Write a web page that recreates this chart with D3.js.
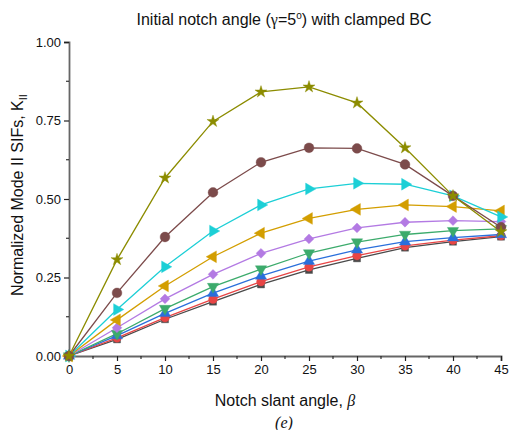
<!DOCTYPE html>
<html><head><meta charset="utf-8">
<script src="https://cdn.jsdelivr.net/npm/d3@7"></script>
<style>body{margin:0;background:#fff;} svg{display:block;}</style>
</head><body>
<svg id="c" width="509" height="430"></svg>
<script>
const beta = [0,5,10,15,20,25,30,35,40,45];
const sSquare  = [0,0.053,0.117,0.173,0.228,0.274,0.311,0.345,0.364,0.380];
const sCircle  = [0,0.058,0.122,0.181,0.237,0.284,0.320,0.351,0.369,0.383];
const sUpTri   = [0,0.065,0.136,0.200,0.255,0.302,0.338,0.364,0.377,0.387];
const sDownTri = [0,0.071,0.151,0.221,0.277,0.328,0.363,0.387,0.399,0.405];
const sDiamond = [0,0.090,0.182,0.260,0.327,0.373,0.408,0.426,0.431,0.428];
const sLeftTri = [0,0.115,0.223,0.316,0.391,0.438,0.467,0.481,0.476,0.462];
const sRightTri= [0,0.148,0.284,0.398,0.481,0.532,0.550,0.547,0.510,0.443];
const sHex     = [0,0.201,0.379,0.521,0.617,0.663,0.661,0.610,0.510,0.410];
const sStar    = [0,0.307,0.567,0.747,0.841,0.857,0.806,0.663,0.510,0.396];
const yTicks = [0,0.25,0.5,0.75,1.0];
const xTicks = [0,5,10,15,20,25,30,35,40,45];

const series = [
  {v:sSquare, c:"#4a4a4a", m:"square"},
  {v:sCircle, c:"#e84545", m:"circle"},
  {v:sUpTri, c:"#2a6fdb", m:"up"},
  {v:sDownTri, c:"#3cab6c", m:"down"},
  {v:sDiamond, c:"#b37ae3", m:"diamond"},
  {v:sLeftTri, c:"#d39e00", m:"left"},
  {v:sRightTri, c:"#1ccfd6", m:"right"},
  {v:sHex, c:"#7c4b4b", m:"hex"},
  {v:sStar, c:"#8c8c00", m:"star"}
];

const svg = d3.select("#c");
const L=69, R=501, T=42, B=356;
const x = d3.scaleLinear().domain([0,45]).range([L,R]);
const y = d3.scaleLinear().domain([0,1]).range([B,T]);

// title
const title = svg.append("text").attr("x",284).attr("y",25).attr("text-anchor","middle")
  .style("font-family","Liberation Sans, Arial, sans-serif").style("font-size","16px").attr("fill","#111");
title.append("tspan").text("Initial notch angle (");
title.append("tspan").style("font-family","Liberation Serif, Times New Roman, serif").text("γ");
title.append("tspan").text("=5");
title.append("tspan").attr("dy",-6).style("font-size","10px").text("o");
title.append("tspan").attr("dy",6).text(") with clamped BC");

// axes
const fontAx = "Liberation Sans, Arial, sans-serif";
const xAxis = d3.axisBottom(x).tickValues(xTicks).tickSize(5).tickPadding(4).tickFormat(d3.format("d"));
const gx = svg.append("g").attr("transform",`translate(0,${B})`).call(xAxis);
const yAxis = d3.axisLeft(y).tickValues(yTicks).tickSize(5).tickPadding(3).tickFormat(d3.format(".2f"));
const gy = svg.append("g").attr("transform",`translate(${L},0)`).call(yAxis);
[gx,gy].forEach(g=>{
  g.select(".domain").attr("stroke","#666").attr("stroke-width",1.8);
  g.selectAll(".tick line").attr("stroke","#222").attr("stroke-width",1.2);
  g.selectAll(".tick text").style("font-family",fontAx).style("font-size","13px").attr("fill","#111");
});
// minor ticks
const xMinor = xTicks.slice(0,-1).map(d=>d+2.5);
svg.append("g").selectAll("line").data(xMinor).join("line")
  .attr("x1",d=>x(d)).attr("x2",d=>x(d)).attr("y1",B).attr("y2",B+3).attr("stroke","#222").attr("stroke-width",1.1);
const yMinor = yTicks.slice(0,-1).map(d=>d+0.125);
svg.append("g").selectAll("line").data(yMinor).join("line")
  .attr("y1",d=>y(d)).attr("y2",d=>y(d)).attr("x1",L).attr("x2",L-3).attr("stroke","#222").attr("stroke-width",1.1);

// axis labels
const xl = svg.append("text").attr("x",285).attr("y",406).attr("text-anchor","middle")
  .style("font-family",fontAx).style("font-size","16px").attr("fill","#111");
xl.append("tspan").text("Notch slant angle, ");
xl.append("tspan").style("font-family","Liberation Serif, Times New Roman, serif").style("font-style","italic").text("β");
svg.append("text").attr("x",284).attr("y",428).attr("text-anchor","middle")
  .style("font-family","Liberation Serif, Times New Roman, serif").style("font-style","italic").style("font-size","16px").attr("fill","#111").text("(e)");

const yl = svg.append("text").attr("transform",`translate(23,${(T+B)/2-4}) rotate(-90)`).attr("text-anchor","middle")
  .style("font-family",fontAx).style("font-size","16px").attr("fill","#111");
yl.append("tspan").text("Normalized Mode II SIFs, K");
yl.append("tspan").attr("dy",4).style("font-size","11px").text("II");

// lines and markers
const line = d3.line().x((d,i)=>x(beta[i])).y(d=>y(d));
const sym = {
  square: d3.symbol().type(d3.symbolSquare).size(50),
  circle: d3.symbol().type(d3.symbolCircle).size(60),
  up: d3.symbol().type(d3.symbolTriangle).size(55),
  down: d3.symbol().type(d3.symbolTriangle).size(55),
  diamond: d3.symbol().type(d3.symbolSquare).size(48),
  left: d3.symbol().type(d3.symbolTriangle).size(60),
  right: d3.symbol().type(d3.symbolTriangle).size(60),
  hex: d3.symbol().type(d3.symbolCircle).size(75),
  star: d3.symbol().type(d3.symbolStar).size(45)
};
const rot = {down:180, left:-90, right:90, diamond:45};
series.forEach(s=>{
  svg.append("path").datum(s.v).attr("d",line).attr("fill","none").attr("stroke",s.c).attr("stroke-width",1.3);
});
series.forEach(s=>{
  svg.append("g").selectAll("path").data(s.v).join("path")
    .attr("d",sym[s.m])
    .attr("transform",(d,i)=>`translate(${x(beta[i])},${y(d)}) rotate(${rot[s.m]||0})`)
    .attr("fill",s.c).attr("stroke",s.c).attr("stroke-opacity",0.5).attr("stroke-width",0.8);
});
</script>
</body></html>
